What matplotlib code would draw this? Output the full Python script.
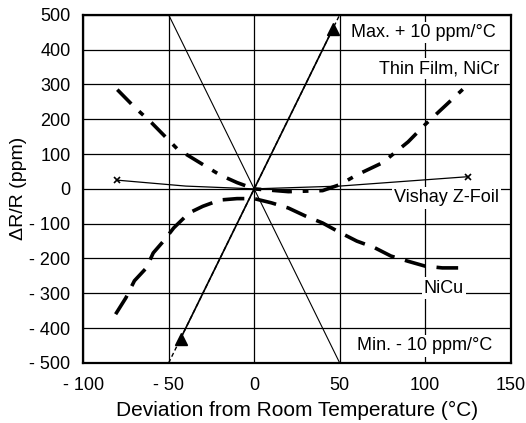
import numpy as np
import matplotlib.pyplot as plt

plt.rcParams['font.family'] = ['Liberation Sans', 'DejaVu Sans']

# Data
zfoil_x = [-80, -40, 0, 50, 125]
zfoil_y = [25, 8, 0, 8, 35]

nicr_x = [-80, -70, -60, -45, -30, -20, -10, 0, 20, 40, 50, 60, 75, 90, 100, 112, 125]
nicr_y = [285, 235, 190, 115, 70, 40, 18, 0, -8, -5, 12, 40, 75, 135, 185, 240, 300]

nicu_x = [-81, -75, -70, -63, -59, -53, -47, -38, -30, -20, -10, 0, 10, 20, 30, 40,
          50, 60, 70, 80, 90, 100, 110, 120]
nicu_y = [-360, -313, -264, -227, -184, -150, -112, -69, -50, -32, -28, -28, -40, -55,
          -78, -98, -125, -150, -168, -193, -208, -222, -227, -227]

limit_x = [-50, 50]
max_y = [-500, 500]
min_y = [500, -500]
max_marker_x = [-43, 46]
max_marker_y = [-430, 460]

xticks = [-100, -50, 0, 50, 100, 150]
xtick_labels = ['- 100', '- 50', '0', '50', '100', '150']
yticks = list(range(-500, 501, 100))
ytick_labels = [('- %d' % -v) if v < 0 else str(v) for v in yticks]


fig = plt.figure(figsize=(5.26, 4.23), dpi=100)
ax = fig.add_axes([0.158, 0.142, 0.813, 0.823])

ax.set_xlim(-100, 150)
ax.set_ylim(-500, 500)
ax.set_xticks(xticks)
ax.set_xticklabels(xtick_labels)
ax.set_yticks(yticks)
ax.set_yticklabels(ytick_labels)
ax.tick_params(length=0, labelsize=13)
ax.tick_params(axis='y', pad=9)
ax.tick_params(axis='x', pad=10)
ax.grid(True, color='black', linewidth=0.9, zorder=0)
ax.set_axisbelow(True)
for s in ax.spines.values():
    s.set_linewidth(1.6)

# tolerance limit lines
ax.plot(limit_x, min_y, color='black', lw=0.8, zorder=3)
ax.plot(limit_x, max_y, color='black', lw=1.0, dashes=(3, 2), zorder=3)
ax.plot(max_marker_x, max_marker_y, color='black', lw=1.2, marker='^',
        markersize=8, zorder=4)

# resistor curves
ax.plot(zfoil_x, zfoil_y, color='black', lw=0.9, marker='x', markersize=5,
        markeredgewidth=1.2, markevery=[0, len(zfoil_x) - 1], zorder=4)
ax.plot(nicr_x, nicr_y, color='black', lw=2.6, dashes=(5.5, 3, 1.6, 3), zorder=4)
ax.plot(nicu_x, nicu_y, color='black', lw=2.6, dashes=(6, 3), zorder=4)

box = dict(facecolor='white', edgecolor='none', pad=1.5)
fs = 13
ax.text(141, 450, 'Max. + 10 ppm/°C', ha='right', va='center', fontsize=fs, bbox=box, zorder=2)
ax.text(143, 345, 'Thin Film, NiCr', ha='right', va='center', fontsize=fs, bbox=box, zorder=2)
ax.text(143, -26, 'Vishay Z-Foil', ha='right', va='center', fontsize=fs, bbox=box, zorder=2)
ax.text(111, -285, 'NiCu', ha='center', va='center', fontsize=fs, bbox=box, zorder=2)
ax.text(139, -451, 'Min. - 10 ppm/°C', ha='right', va='center', fontsize=fs, bbox=box, zorder=2)

ax.set_xlabel('Deviation from Room Temperature (°C)', fontsize=15, labelpad=5)
ax.set_ylabel('ΔR/R (ppm)', fontsize=14, labelpad=2)

fig.savefig('out.png', dpi=100)
